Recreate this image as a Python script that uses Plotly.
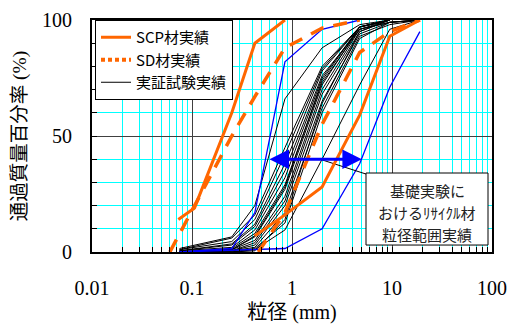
import math
import plotly.graph_objects as go

# ---------------- data ----------------
SIEVE = [0.075, 0.25, 0.425, 0.85, 2.0, 4.75, 9.5, 19.0]

# 実証試験実績 (black thin lines) - passing % at each SIEVE size
BLACK_ROWS = [
    [1.5, 6.5, 20, 66, 88, 98, 100, None],
    [1.0, 6.0, 16, 45, 80, 97, 100, None],
    [1.0, 4.5, 14, 42, 79, 97, 100, None],
    [0.5, 3.5, 12, 38, 78, 97, 100, None],
    [0.5, 3.0, 11, 35, 76, 96, 100, None],
    [0.5, 2.0, 9.5, 32, 75, 97, 100, None],
    [0.0, 1.5, 8, 29, 73, 96, 99, 100],
    [0.0, 1.0, 6.5, 27, 72, 97, 100, None],
    [0.0, 1.0, 5, 24, 70, 96, 99, 100],
    [0.0, 0.5, 4, 22, 68, 95, 100, None],
    [0.0, 0.5, 3, 20, 65, 94, 99, 100],
    [0.0, 0.5, 2, 17, 62, 93, 98, 100],
    [0.0, 0.0, 1.5, 12.5, 60, 92, 99, 100],
    [0.0, 0.0, 1.0, 9.5, 40, 72, 96, 100],
    [0.0, 0.0, 0.5, 14, 64, 95, 100, None],
    [0.0, 1.0, 7, 28, 74, 97, 100, None],
]

# 基礎実験 range (blue lines)
BLUE_A_D = [0.075, 0.25, 0.425, 0.85, 2.0, 4.75]
BLUE_A_P = [0, 1.5, 17, 82, 96, 100]
BLUE_B_D = [0.075, 0.85, 2.0, 4.75, 9.5, 19.0]
BLUE_B_P = [0, 1.5, 10, 38, 71, 95]

# SCP材実績 (orange solid)
SCP_LEFT_D = [0.073, 0.106, 0.25, 0.425, 0.85]
SCP_LEFT_P = [14, 19, 60, 90, 100]
SCP_RIGHT_D = [0.425, 0.85, 2.0, 4.75, 9.5, 19.0]
SCP_RIGHT_P = [7, 16, 28, 59, 93, 100]

# SD材実績 (orange dashed)
SD_LEFT_D = [0.06, 0.25, 0.425, 0.85, 2.0, 4.75]
SD_LEFT_P = [0, 50, 67, 88, 96.5, 100]
SD_RIGHT_D = [0.46, 0.85, 2.0, 4.75, 9.5, 19.0]
SD_RIGHT_P = [0, 17, 55, 86, 95, 100]

# range arrow and leader line
ARROW_D = [0.575, 5.0]
ARROW_P = 40
LEADER_D = [1.9, 5.5]
LEADER_P = [40, 33.6]

LEGEND_NAMES = ["SCP材実績", "SD材実績", "実証試験実績"]
BOX_LINES = ["基礎実験に", "おけるﾘｻｲｸﾙ材", "粒径範囲実績"]

ORANGE = "#FF6600"
BLUE = "#0000FF"
CYAN = "#00FFFF"
JP = "Noto Sans CJK JP"
SERIF = "Liberation Serif"

fig = go.Figure()

for i, row in enumerate(BLACK_ROWS):
    xs = [d for d, p in zip(SIEVE, row) if p is not None]
    ys = [p for p in row if p is not None]
    fig.add_trace(go.Scatter(x=xs, y=ys, mode="lines",
                             line=dict(color="black", width=1),
                             name=LEGEND_NAMES[2], legendgroup="b",
                             showlegend=(i == 0), legendrank=3))

for d, p in [(BLUE_A_D, BLUE_A_P), (BLUE_B_D, BLUE_B_P)]:
    fig.add_trace(go.Scatter(x=d, y=p, mode="lines",
                             line=dict(color=BLUE, width=1.3), showlegend=False))

fig.add_trace(go.Scatter(x=LEADER_D, y=LEADER_P, mode="lines",
                         line=dict(color="black", width=1), showlegend=False))

for d, p in [(SD_LEFT_D, SD_LEFT_P), (SD_RIGHT_D, SD_RIGHT_P)]:
    fig.add_trace(go.Scatter(x=d, y=p, mode="lines",
                             line=dict(color=ORANGE, width=3.5, dash="14px,10px"),
                             showlegend=False))
# legend-only entry for SD (dotted sample)
fig.add_trace(go.Scatter(x=[None], y=[None], mode="lines",
                         line=dict(color=ORANGE, width=4, dash="4px,3px"),
                         name=LEGEND_NAMES[1], legendrank=2))

for i, (d, p) in enumerate([(SCP_LEFT_D, SCP_LEFT_P), (SCP_RIGHT_D, SCP_RIGHT_P)]):
    fig.add_trace(go.Scatter(x=d, y=p, mode="lines",
                             line=dict(color=ORANGE, width=3),
                             name=LEGEND_NAMES[0], legendgroup="scp",
                             showlegend=(i == 0), legendrank=1))

# double-headed arrow
fig.add_annotation(x=math.log10(ARROW_D[1]), y=ARROW_P,
                   ax=math.log10(ARROW_D[0]), ay=ARROW_P,
                   xref="x", yref="y", axref="x", ayref="y", text="",
                   showarrow=True, arrowside="end+start",
                   arrowhead=2, startarrowhead=2, arrowsize=1.3, startarrowsize=1.3,
                   arrowwidth=3, arrowcolor=BLUE, standoff=0, startstandoff=0)

# text box (frame + three centred lines)
fig.add_shape(type="rect", xref="paper", yref="paper",
              x0=0.685, x1=0.99, y0=0.03, y1=0.3405,
              line=dict(color="black", width=1), fillcolor="white", layer="above")
for k, line_text in enumerate(BOX_LINES):
    fig.add_annotation(x=0.8375, y=0.267 - k * 0.0948, xref="paper", yref="paper",
                       xanchor="center", yanchor="middle", showarrow=False,
                       text=line_text, font=dict(family=JP, size=15, color="#222"))

fig.update_xaxes(type="log", range=[-2, 2], dtick=1,
                 showgrid=True, gridcolor="#404040", gridwidth=1,
                 ticks="inside", ticklen=5, tickcolor="black",
                 minor=dict(dtick="D1", showgrid=True, gridcolor=CYAN, gridwidth=1,
                            ticks="inside", ticklen=5, tickcolor="black"),
                 showline=True, linecolor="black", linewidth=2, mirror=True,
                 tickfont=dict(family=SERIF, size=20, color="black"),
                 ticklabelstandoff=17,
                 title=dict(text="粒径 (mm)", font=dict(family=SERIF + ", " + JP, size=20, color="black"),
                            standoff=7),
                 automargin=False, zeroline=False)

fig.update_yaxes(range=[0, 100], dtick=50,
                 showgrid=True, gridcolor="#404040", gridwidth=1,
                 ticks="inside", ticklen=5, tickcolor="black",
                 minor=dict(dtick=10, showgrid=True, gridcolor=CYAN, gridwidth=1,
                            ticks="inside", ticklen=5, tickcolor="black"),
                 showline=True, linecolor="black", linewidth=2, mirror=True,
                 tickfont=dict(family=SERIF, size=20, color="black"),
                 ticklabelstandoff=14,
                 title=dict(text="通過質量百分率 (%)", font=dict(family=SERIF + ", " + JP, size=19.5, color="black"),
                            standoff=10),
                 automargin=False, zeroline=False)

fig.update_layout(width=510, height=324,
                  margin=dict(l=92, r=18, t=20, b=72),
                  paper_bgcolor="white", plot_bgcolor="white",
                  legend=dict(x=0.0075, y=1.0, xanchor="left", yanchor="top",
                              bordercolor="black", borderwidth=1, bgcolor="white",
                              font=dict(family=JP, size=15, color="black"),
                              tracegroupgap=0, itemwidth=30,
                              traceorder="normal"),
                  showlegend=True)

fig.write_html("out.html", config={"displayModeBar": False},
               post_script="document.body.style.margin='0';"
                           "document.documentElement.style.overflow='hidden';")
